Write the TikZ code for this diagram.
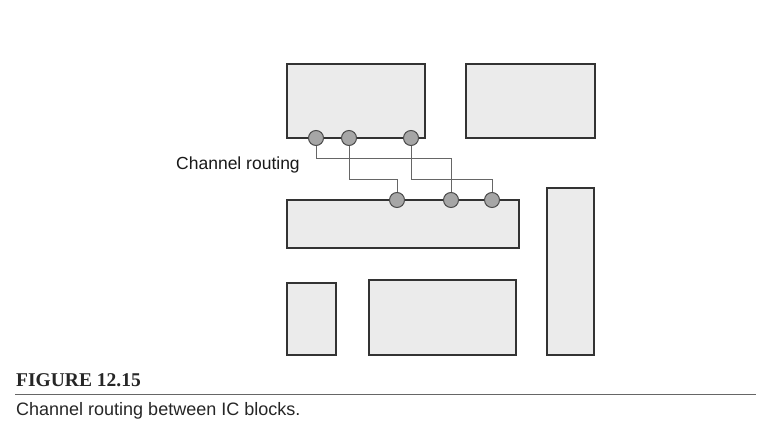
\documentclass[tikz,border=0pt]{standalone}
\usepackage{fontspec}
\setmainfont{Liberation Serif}
\setsansfont{Liberation Sans}
\begin{document}
\begin{tikzpicture}[x=1pt,y=-1pt,
  block/.style={draw=black!80,line width=1.8pt,fill=black!8,inner sep=0pt,rectangle},
  pin/.style={circle,draw=black!70,line width=1pt,fill=black!35,minimum size=15pt,inner sep=0pt},
  wire/.style={draw=black!60,line width=1pt},
  lbl/.style={font=\sffamily\fontsize{17.5}{20}\selectfont,text=black!90,inner sep=0pt,anchor=base west}]
\useasboundingbox[fill=white] (0,0) rectangle (773,446);
% blocks
\node[block,minimum width=138pt,minimum height=74pt] (A) at (356,101) {};
\node[block,minimum width=129pt,minimum height=74pt] (B) at (530.5,101) {};
\node[block,minimum width=232pt,minimum height=48pt] (C) at (403,224) {};
\node[block,minimum width=47pt,minimum height=167pt] (D) at (570.5,271.5) {};
\node[block,minimum width=49pt,minimum height=72pt] (E) at (311.5,319) {};
\node[block,minimum width=147pt,minimum height=75pt] (F) at (442.5,317.5) {};
% pins
\node[pin] (p1) at (316,138) {};
\node[pin] (p2) at (349,138) {};
\node[pin] (p3) at (411,138) {};
\node[pin] (q1) at (397,200) {};
\node[pin] (q2) at (451,200) {};
\node[pin] (q3) at (492,200) {};
% wires
\draw[wire] (p1.south) |- (316,159) -| (q2.north);
\draw[wire] (p2.south) |- (349,180) -| (q1.north);
\draw[wire] (p3.south) |- (411,180) -| (q3.north);
% label
\node[lbl] (lab) at (176,170) {Channel routing};
% caption
\node[inner sep=0pt,anchor=base west,font=\bfseries\fontsize{19.5}{22}\selectfont,text=black!85] (fig) at (16,386) {FIGURE 12.15};
\coordinate (r1) at (15,394.5);
\coordinate (r2) at (756,394.5);
\draw[draw=black!60,line width=1.3pt] (r1) -- (r2);
\node[inner sep=0pt,anchor=base west,font=\sffamily\fontsize{18}{21}\selectfont,text=black!85] (cap) at (16,415) {Channel routing between IC blocks.};
\end{tikzpicture}
\end{document}
